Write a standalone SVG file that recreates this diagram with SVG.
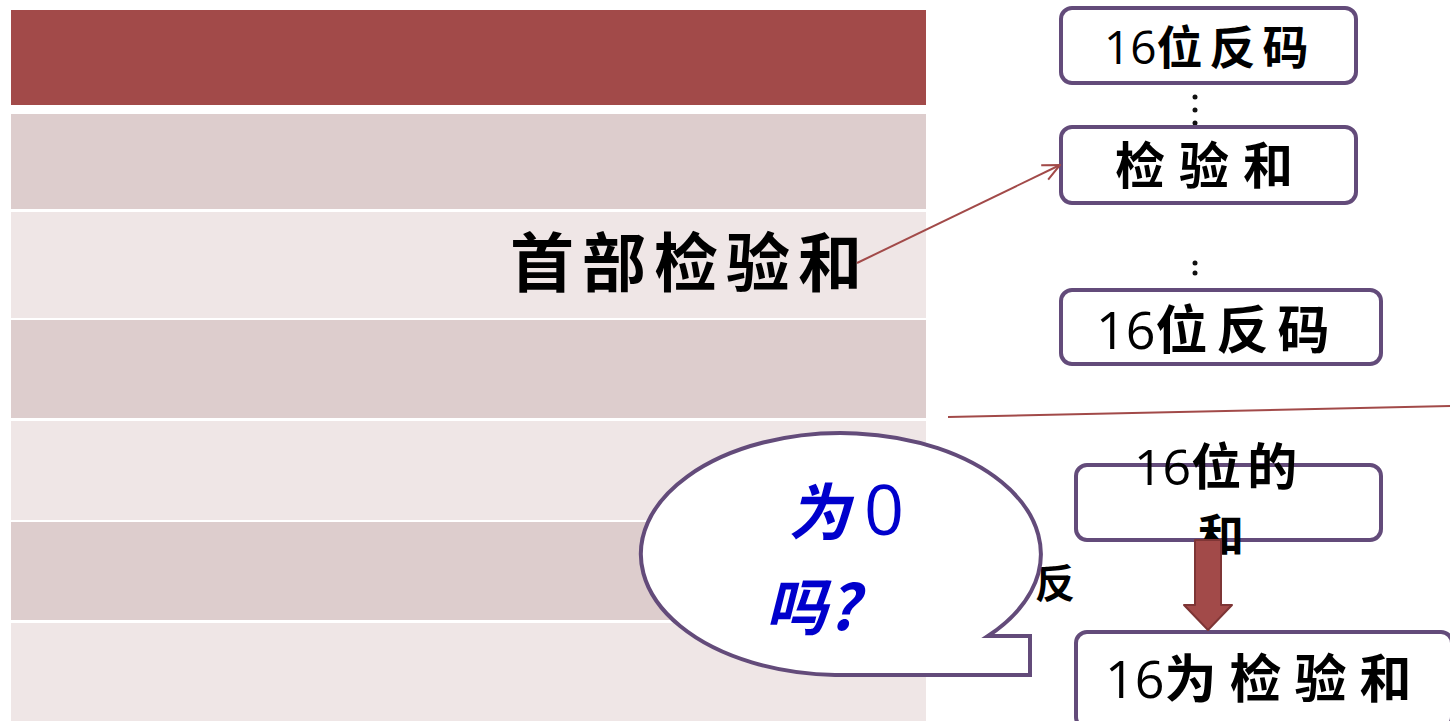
<svg xmlns="http://www.w3.org/2000/svg" width="1450" height="721" viewBox="0 0 1450 721">
<defs>
<style>
.rowA{fill:#DDCDCD}
.rowB{fill:#EFE6E6}
.box{fill:#FFFFFF;stroke:#634B7A;stroke-width:4}
.t{font-family:"Noto Sans CJK SC","Noto Sans",sans-serif;font-weight:bold;fill:#000}
.n{font-family:"Open Sans","Noto Sans",sans-serif;font-weight:normal}
.dot{fill:#111}
</style>
<marker id="open" viewBox="0 0 20 20" refX="19" refY="10" markerWidth="20" markerHeight="20" markerUnits="userSpaceOnUse" orient="auto">
<path d="M2,2 L19,10 L2,18" fill="none" stroke="#A24A49" stroke-width="2"/>
</marker>
</defs>
<rect width="1450" height="721" fill="#FFFFFF"/>
<g id="table">
<rect x="11" y="10" width="915" height="95" fill="#A24A49"/>
<rect class="rowA" x="11" y="114" width="915" height="95"/>
<rect class="rowB" x="11" y="212" width="915" height="106"/>
<rect class="rowA" x="11" y="320" width="915" height="98"/>
<rect class="rowB" x="11" y="421" width="915" height="99"/>
<rect class="rowA" x="11" y="522" width="915" height="98"/>
<rect class="rowB" x="11" y="623" width="915" height="98"/>
</g>
<g id="label-header-checksum">
<text class="t" x="510" y="286" font-size="64" letter-spacing="8">首部检验和</text>
</g>
<g id="box-top">
<rect class="box" x="1061" y="8" width="295" height="75" rx="11"/>
<text class="t" x="1104" y="64" font-size="46" letter-spacing="7"><tspan class="n" letter-spacing="0">16</tspan>位反码</text>
</g>
<g id="dots1">
<circle class="dot" cx="1195" cy="97" r="2.5"/>
<circle class="dot" cx="1195" cy="110" r="2.5"/>
<circle class="dot" cx="1195" cy="123" r="2.5"/>
</g>
<g id="box-checksum">
<rect class="box" x="1061" y="127" width="295" height="76" rx="11"/>
<text class="t" x="1115" y="184" font-size="50" letter-spacing="14">检验和</text>
</g>
<g id="dots2">
<circle class="dot" cx="1195" cy="263" r="2.5"/>
<circle class="dot" cx="1195" cy="273" r="2.5"/>
</g>
<g id="box-bottom">
<rect class="box" x="1061" y="290" width="320" height="74" rx="11"/>
<text class="t" x="1096" y="349" font-size="52" letter-spacing="9"><tspan class="n" letter-spacing="0">16</tspan>位反码</text>
</g>
<g id="box-sum">
<rect class="box" x="1076" y="465" width="305" height="75" rx="11"/>
<text class="t" x="1134" y="485" font-size="50" letter-spacing="6"><tspan class="n" letter-spacing="0">16</tspan>位的</text>
<text class="t" x="1198" y="552" font-size="46">和</text>
</g>
<g id="label-inv">
<text class="t" x="1035" y="598" font-size="40">反</text>
</g>
<g id="box-result">
<rect class="box" x="1076" y="632" width="376" height="96" rx="11"/>
<text class="t" x="1105" y="698" font-size="52" letter-spacing="13"><tspan class="n" letter-spacing="0">16</tspan>为检验和</text>
</g>
<g id="bubble">
<path d="M988,636 A200,121 0 1 0 835,675 L1030,675 L1030,636 Z" fill="#FFFFFF" stroke="#634B7A" stroke-width="4" stroke-linejoin="miter"/>
<text x="788" y="535" font-size="62" font-family="Noto Sans CJK SC, Noto Sans, sans-serif" font-weight="bold" font-style="italic" fill="#0000CC">为<tspan font-family="Open Sans, Noto Sans, sans-serif" font-weight="normal" font-style="normal" font-size="70" dx="14">0</tspan></text>
<text x="765" y="630" font-size="62" font-family="Noto Sans CJK SC, Noto Sans, sans-serif" font-weight="bold" font-style="italic" fill="#0000CC">吗?</text>
</g>
<g id="connectors">
<line x1="857" y1="263" x2="1060" y2="165" stroke="#A24A49" stroke-width="2" marker-end="url(#open)"/>
<line x1="948" y1="417" x2="1450" y2="406" stroke="#A24A49" stroke-width="2"/>
<path d="M1195,540 L1221,540 L1221,605 L1232,605 L1208,630 L1184,605 L1195,605 Z" fill="#A24A49" stroke="#7E3535" stroke-width="2" stroke-linejoin="round"/>
</g>
</svg>
